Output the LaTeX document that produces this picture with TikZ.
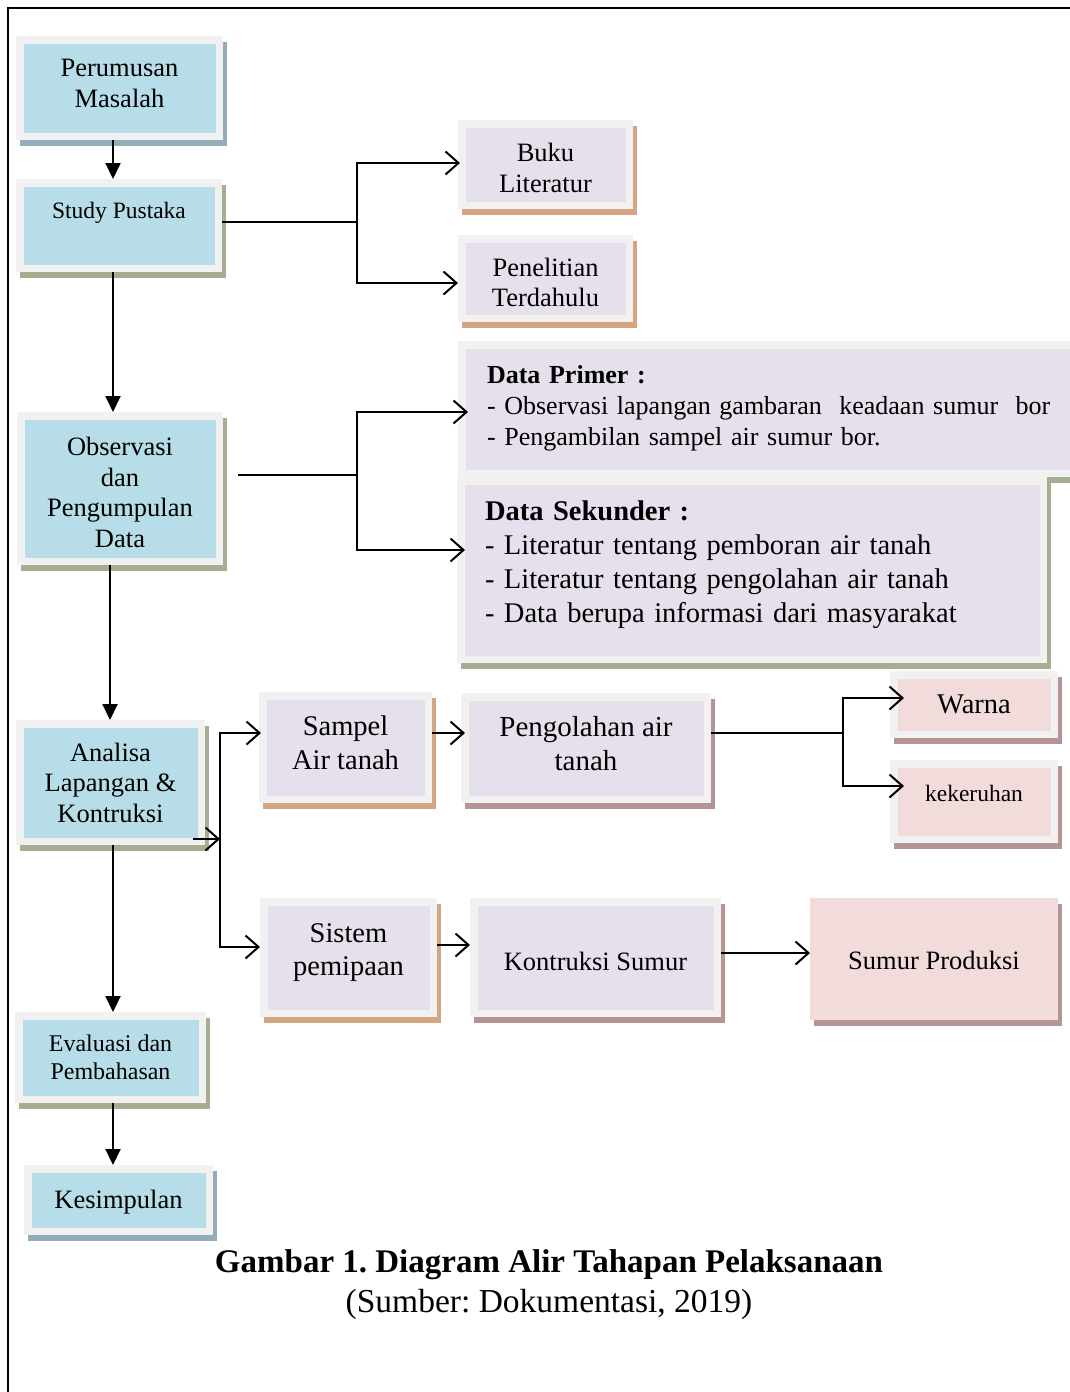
\documentclass[tikz,border=0pt]{standalone}
\usepackage{fontspec}
\setmainfont{Liberation Serif}
\usetikzlibrary{arrows.meta, shadows}
\definecolor{framegray}{HTML}{F1F1F1}
\definecolor{cardblue}{HTML}{B7DEE8}
\definecolor{cardlilac}{HTML}{E5E0EC}
\definecolor{cardpink}{HTML}{F2DCDB}
\definecolor{shblue}{HTML}{92ADB7}
\definecolor{sholive}{HTML}{A6AE91}
\definecolor{shtan}{HTML}{D3A583}
\definecolor{shmauve}{HTML}{B49494}
\tikzstyle{line} = [draw, -{Triangle[length=16pt,width=15pt]}, line width=2pt]
\tikzstyle{branch} = [draw, -{Straight Barb[length=13pt,width=23pt]}, line width=2pt]
% invisible struts to push text up or down in a card
\newcommand{\up}[1]{\rule[-#1pt]{0pt}{0pt}}
\newcommand{\down}[1]{\rule{0pt}{#1pt}}
\frenchspacing

\begin{document}
\begin{tikzpicture}[x=1pt,y=-1pt]
  \tikzset{
    card/.style 2 args={
      rectangle,
      fill=#1,
      draw=framegray,
      line width=7.5pt,
      inner sep=0pt,
      align=center,
      general shadow={fill=#2, draw=#2, line width=7.5pt,
        shadow xshift=4pt, shadow yshift=-6pt}
    },
    blue card/.style={card={cardblue}{#1}},
    lilac card/.style={card={cardlilac}{#1}},
    pink card/.style={card={cardpink}{#1}},
    boxsize/.style 2 args={minimum width=#1pt, minimum height=#2pt},
    txt/.style 2 args={font=\fontsize{#1pt}{#2pt}\selectfont}
  }

  \useasboundingbox (0,0) rectangle (1070,1392);
  \draw[line width=1.5pt] (8,1400) -- (8,8) -- (1080,8);

  % left column
  \node[blue card=shblue, boxsize={199.5}{96.5}, txt={26.5}{31}] (perumusan) at (119.5,88) {Perumusan\\Masalah\up{9}};
  \node[blue card=sholive, boxsize={198.5}{85.5}, txt={23.5}{28}] (study) at (119,225.5) {Study Pustaka\up{30}};
  \node[blue card=sholive, boxsize={198.5}{145.5}, txt={26.5}{30.5}] (obs) at (120,488.5) {\down{26.5}Observasi\\dan\\Pengumpulan\\Data};
  \node[blue card=sholive, boxsize={181.5}{117.5}, txt={26.5}{30.5}] (analisa) at (110.5,782.5) {Analisa\\Lapangan \&\\Kontruksi};
  \node[blue card=sholive, boxsize={183.5}{83.5}, txt={24}{28}] (evaluasi) at (110.5,1057.5) {Evaluasi dan\\Pembahasan};
  \node[blue card=shblue, boxsize={181.5}{62.5}, txt={26.5}{31}] (kesimpulan) at (118.5,1200) {\down{22}Kesimpulan};

  % literature
  \node[lilac card=shtan, boxsize={167.5}{81.5}, txt={26.5}{31}] (buku) at (545.5,164.5) {\down{26}Buku\\Literatur};
  \node[lilac card=shtan, boxsize={167.5}{79.5}, txt={26.5}{30}] (penelitian) at (545.5,278.5) {\down{27}Penelitian\\Terdahulu};

  % data
  \node[lilac card=sholive, boxsize={619.5}{128.5}, txt={26}{31}, align=left,
        inner xsep=25.25pt, text width=640pt, anchor=west] (primer) at (458,409)
    {\textbf{Data Primer :}\\
     - Observasi lapangan gambaran\ \ keadaan sumur\ \ bor\\
     - Pengambilan sampel air sumur bor.\up{8}};
  \node[lilac card=sholive, boxsize={582.5}{178.5}, txt={28.5}{34}, align=left,
        inner xsep=24.25pt, text width=534pt] (sekunder) at (752,570)
    {\textbf{Data Sekunder :}\\
     - Literatur tentang pemboran air tanah\\
     - Literatur tentang pengolahan air tanah\\
     - Data berupa informasi dari masyarakat\up{16}};

  % analysis
  \node[lilac card=shtan, boxsize={165.5}{103.5}, txt={28.5}{34}] (sampel) at (345.5,747.5) {Sampel\\Air tanah\up{9}};
  \node[lilac card=shmauve, boxsize={242.5}{102.5}, txt={29}{34}] (pengolahan) at (586,748) {Pengolahan air\\tanah\up{9}};
  \node[pink card=shmauve, boxsize={160.5}{59.5}, txt={28.5}{33}] (warna) at (974,704.5) {Warna};
  \node[pink card=shmauve, boxsize={160.5}{75.5}, txt={23.5}{28}, text depth=17pt] (kekeruhan) at (974,801.5) {kekeruhan};
  \node[lilac card=shtan, boxsize={169.5}{111.5}, txt={28.5}{33}] (sistem) at (348.5,957.5) {Sistem\\pemipaan\up{16}};
  \node[lilac card=shmauve, boxsize={243.5}{111.5}, txt={26.5}{31}] (kontruksi) at (595.5,957.5) {\down{26}Kontruksi Sumur};
  \node[pink card=shmauve, draw=cardpink, boxsize={240.5}{114.5}, txt={26.5}{31}] (produksi) at (934,959) {\down{22}Sumur Produksi};

  % caption
  \node[font=\fontsize{33pt}{38pt}\selectfont\bfseries] (title) at (549,1265) {Gambar 1. Diagram Alir Tahapan Pelaksanaan};
  \node[font=\fontsize{33.5pt}{38pt}\selectfont] (source) at (549,1304) {(Sumber: Dokumentasi, 2019)};

  % branch points
  \coordinate (splitA) at (357,222);
  \coordinate (splitB) at (357,475);
  \coordinate (splitC) at (220,839);
  \coordinate (splitD) at (843,733);

  % main flow
  \draw[line] ([xshift=-6.5pt]perumusan.south) -- ([xshift=-6.5pt]perumusan.south |- study.north);
  \draw[line] ([xshift=-6pt]study.south) -- ([xshift=-6pt]study.south |- obs.north);
  \draw[line] ([xshift=-10pt]obs.south) -- ([xshift=-10pt]obs.south |- analisa.north);
  \draw[line] ([xshift=2.5pt]analisa.south) -- ([xshift=2.5pt]analisa.south |- evaluasi.north);
  \draw[line] ([xshift=2.5pt]evaluasi.south) -- ([xshift=2.5pt]evaluasi.south |- kesimpulan.north);

  % side branches
  \draw[line width=2pt] (splitA -| study.east) -- (splitA);
  \draw[branch] (splitA) |- ([xshift=2pt,yshift=1.5pt]buku.west);
  \draw[branch] (splitA) |- ([yshift=-4.5pt]penelitian.west);
  \draw[line width=2pt] ([xshift=15pt]splitB -| obs.east) -- (splitB);
  \draw[branch] (splitB) |- ([xshift=10pt,yshift=-3pt]primer.west);
  \draw[branch] (splitB) |- ([xshift=8pt,yshift=20pt]sekunder.west);
  \draw[branch] ([xshift=-12pt,yshift=6pt]analisa.south east) -- (splitC);
  \draw[branch] (splitC) |- ([xshift=2pt,yshift=14.5pt]sampel.west);
  \draw[branch] (splitC) |- ([yshift=10.5pt]sistem.west);
  \draw[branch] ([yshift=14.5pt]sampel.east) -- ([xshift=4pt,yshift=14.5pt]sampel.east -| pengolahan.west);
  \draw[line width=2pt] ([yshift=14.5pt]sampel.east -| pengolahan.east) -- (splitD);
  \draw[branch] (splitD) |- ([xshift=14pt,yshift=6.5pt]warna.west);
  \draw[branch] (splitD) |- ([xshift=14pt,yshift=15.5pt]kekeruhan.west);
  \draw[branch] ([yshift=12.5pt]sistem.east) -- ([yshift=12.5pt]sistem.east -| kontruksi.west);
  \draw[branch] ([yshift=4.5pt]kontruksi.east) -- ([yshift=4.5pt]kontruksi.east -| produksi.west);
\end{tikzpicture}
\end{document}
